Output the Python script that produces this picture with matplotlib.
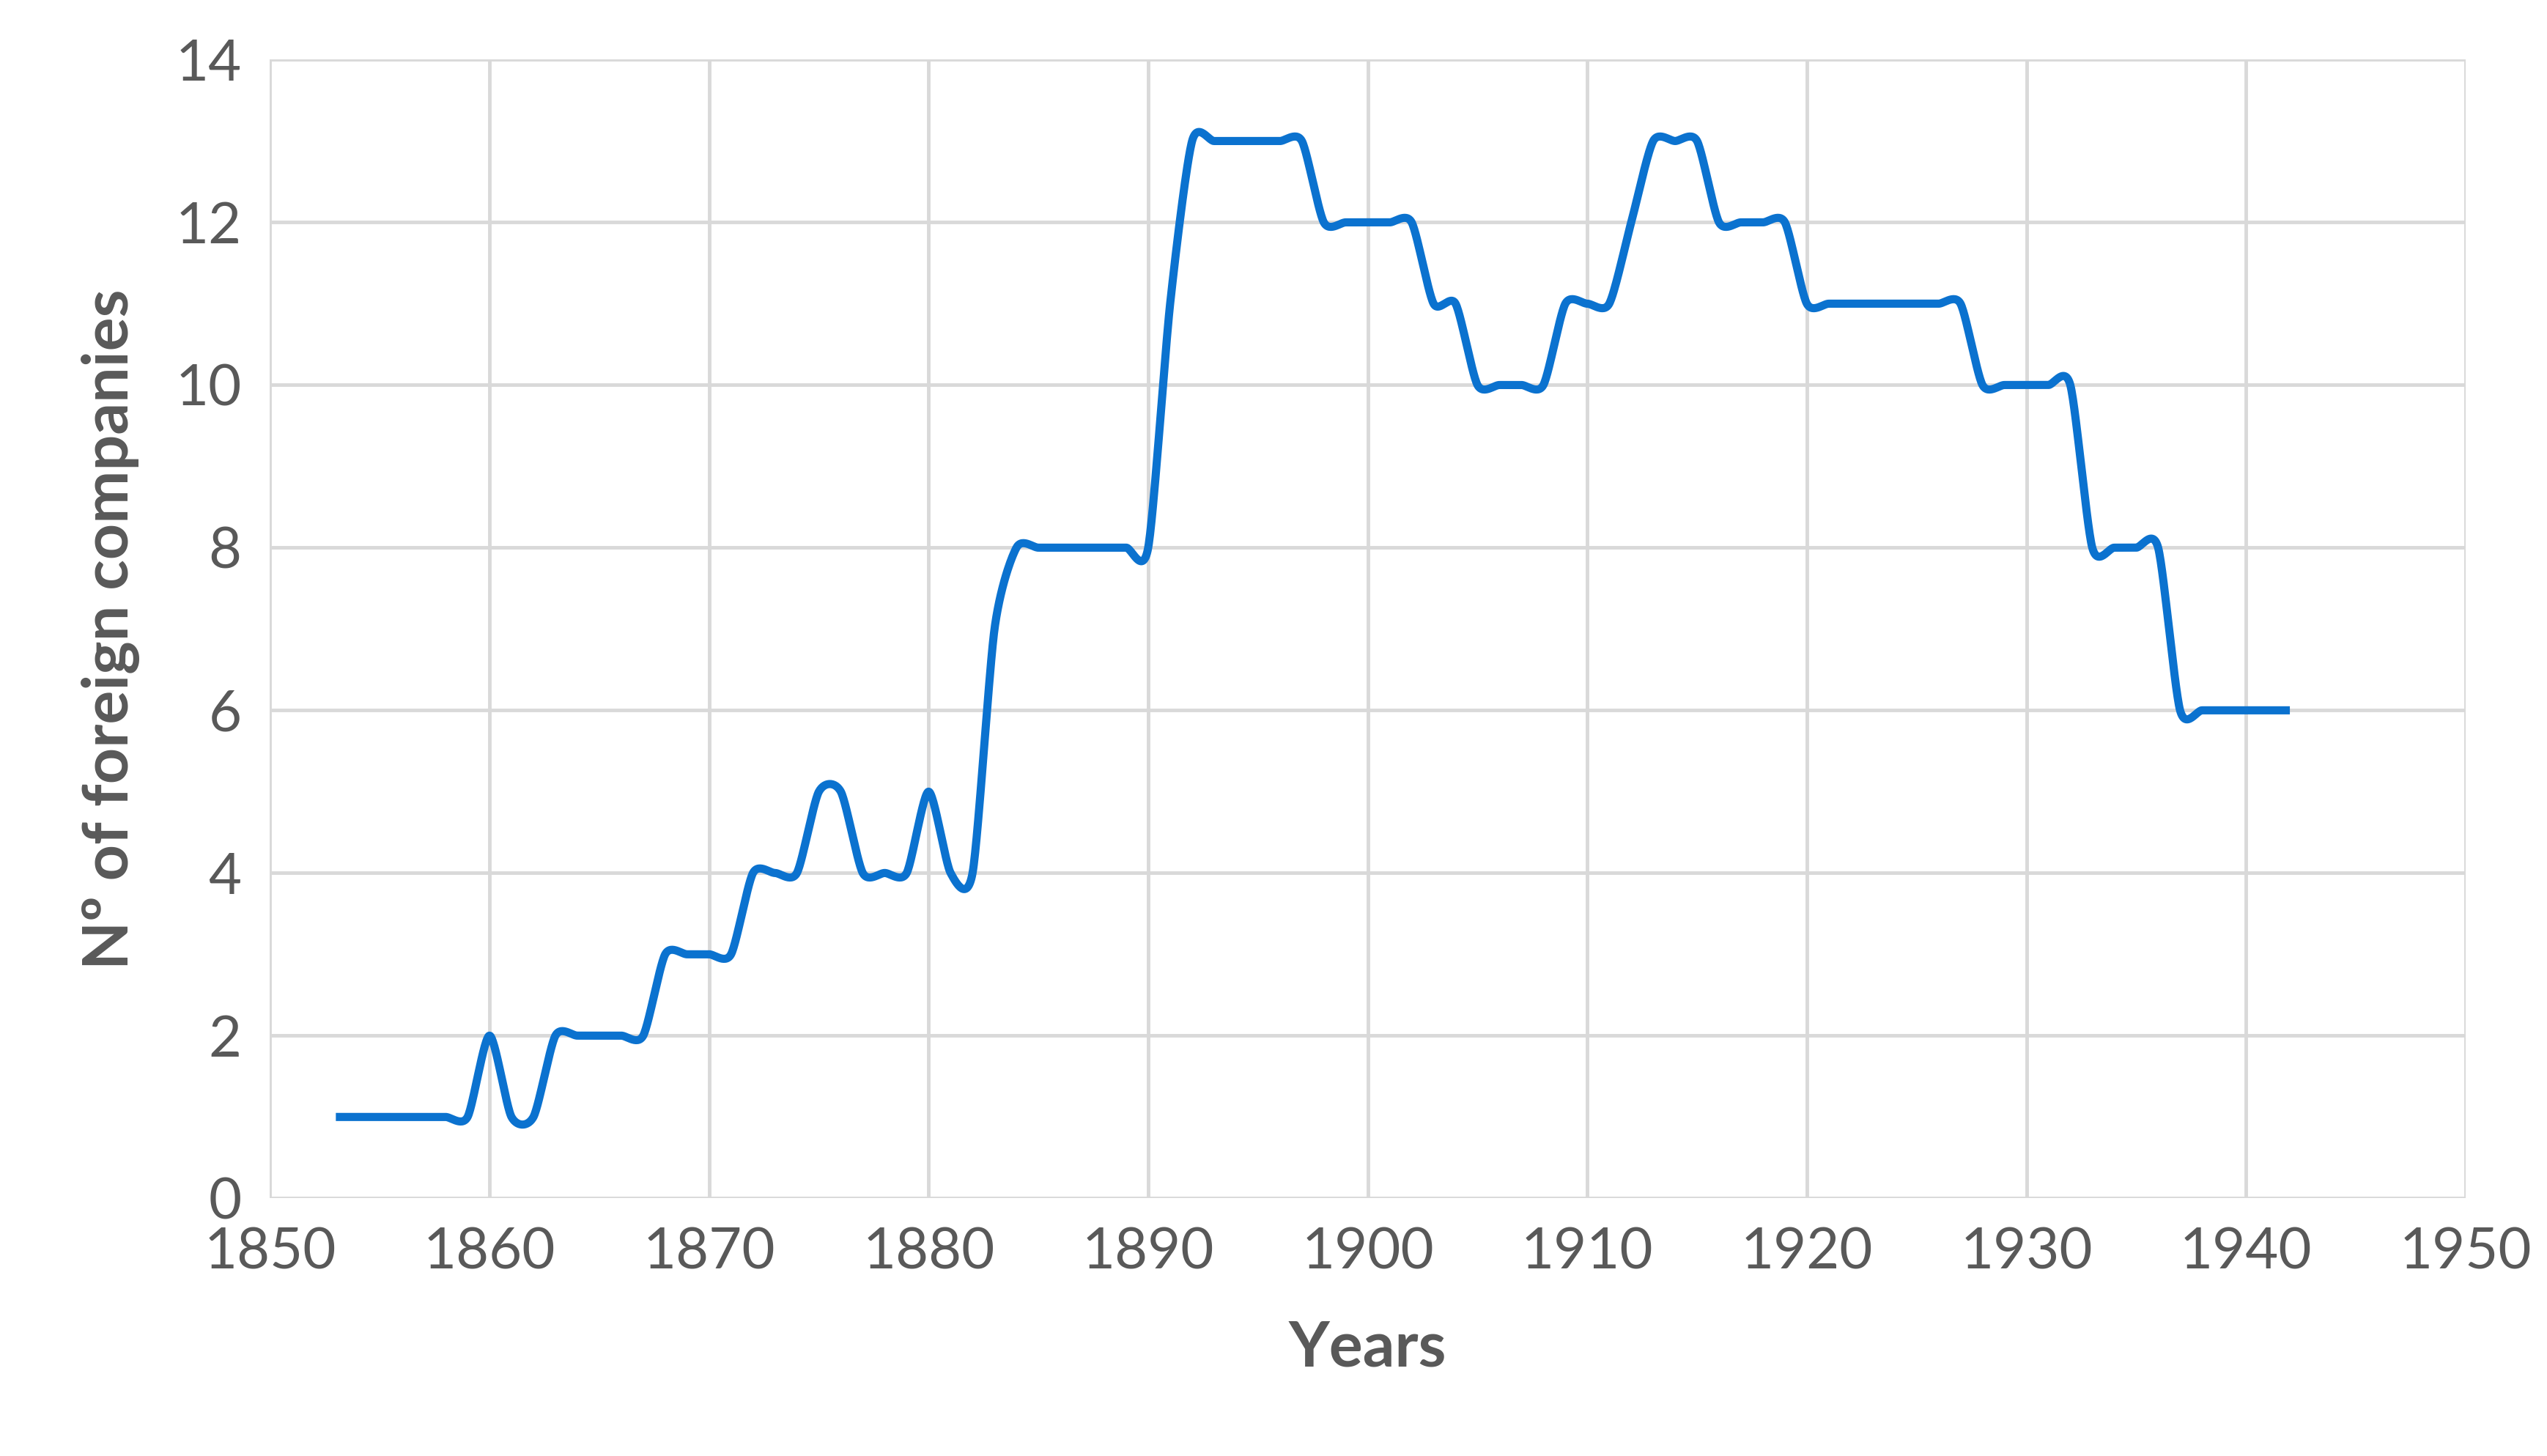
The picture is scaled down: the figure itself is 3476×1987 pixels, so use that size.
import numpy as np
import matplotlib.pyplot as plt

years = list(range(1853, 1943))
companies = [1, 1, 1, 1, 1, 1, 1, 2, 1, 1,          # 1853-1862
             2, 2, 2, 2, 2, 3, 3, 3, 3, 4,          # 1863-1872
             4, 4, 5, 5, 4, 4, 4, 5, 4, 4,          # 1873-1882
             7, 8, 8, 8, 8, 8, 8, 8, 11, 13,        # 1883-1892
             13, 13, 13, 13, 13, 12, 12, 12, 12, 12,  # 1893-1902
             11, 11, 10, 10, 10, 10, 11, 11, 11, 12,  # 1903-1912
             13, 13, 13, 12, 12, 12, 12, 11, 11, 11,  # 1913-1922
             11, 11, 11, 11, 11, 10, 10, 10, 10, 10,  # 1923-1932
             8, 8, 8, 8, 6, 6, 6, 6, 6, 6]            # 1933-1942


def smooth(x, y, n=30, k=8):
    # Bezier smoothing like Excel's "smoothed line"
    x = np.asarray(x, float)
    y = np.asarray(y, float)
    px = np.concatenate([[x[0]], x, [x[-1]]])
    py = np.concatenate([[y[0]], y, [y[-1]]])
    t = np.linspace(0, 1, n)
    xs, ys = [], []
    for i in range(1, len(px) - 2):
        p0 = np.array([px[i], py[i]])
        p3 = np.array([px[i + 1], py[i + 1]])
        p1 = p0 + (np.array([px[i + 1], py[i + 1]]) - np.array([px[i - 1], py[i - 1]])) / k
        p2 = p3 - (np.array([px[i + 2], py[i + 2]]) - np.array([px[i], py[i]])) / k
        b = ((1 - t) ** 3)[:, None] * p0 + (3 * (1 - t) ** 2 * t)[:, None] * p1 \
            + (3 * (1 - t) * t ** 2)[:, None] * p2 + (t ** 3)[:, None] * p3
        xs.append(b[:, 0])
        ys.append(b[:, 1])
    return np.concatenate(xs), np.concatenate(ys)


plt.rcParams['font.family'] = ['Lato', 'DejaVu Sans']
fig = plt.figure(figsize=(34.76, 19.87), dpi=100)
ax = fig.add_axes([0.106, 0.177, 0.862, 0.782])

sx, sy = smooth(years, companies)
ax.plot(sx, sy, color='#0B72CF', lw=8, solid_capstyle='butt', zorder=3)

ax.set_xlim(1850, 1950)
ax.set_ylim(0, 14)
ax.set_xticks(range(1850, 1951, 10))
ax.set_yticks(range(0, 15, 2))
ax.grid(True, color='#D9D9D9', lw=3.5)
for s in ax.spines.values():
    s.set_visible(False)
ax.tick_params(length=0, labelsize=56, labelcolor='#595959', pad=28)
ax.set_xlabel('Years', fontsize=62, fontweight='bold', color='#595959', labelpad=40)
ax.set_ylabel('Nº of foreign companies', fontsize=62, fontweight='bold', color='#595959', labelpad=35)

fig.savefig('out.png', dpi=100)
